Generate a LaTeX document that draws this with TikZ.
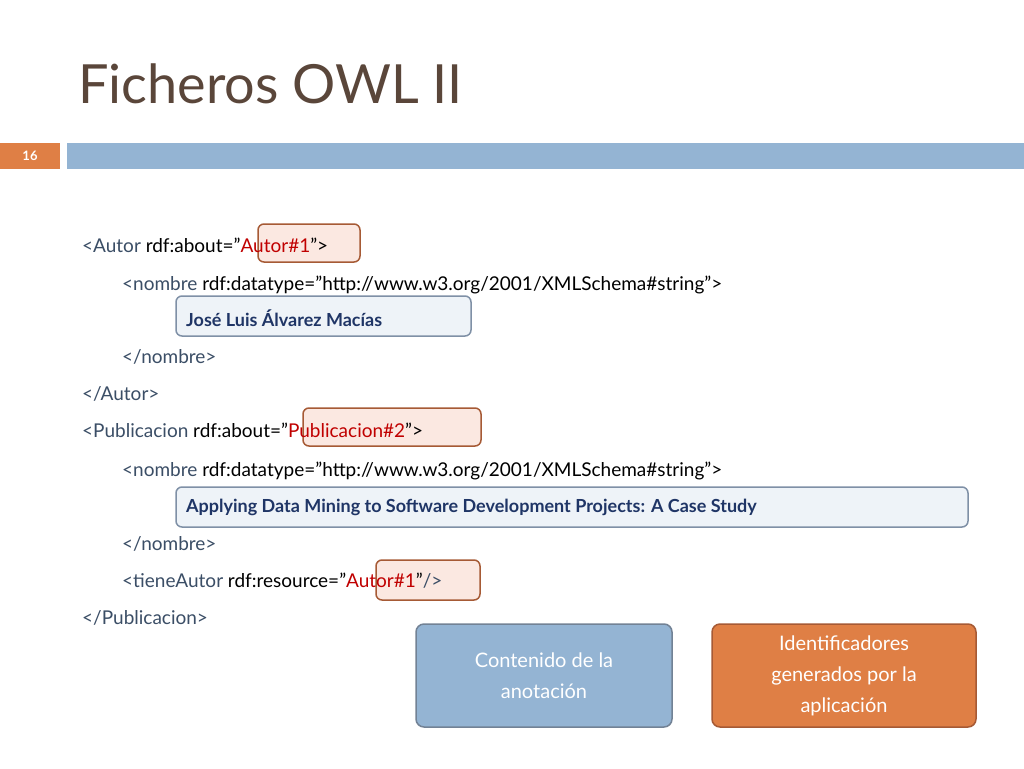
\documentclass[tikz,border=0pt]{standalone}
\usepackage{fontspec}
\setmainfont{Lato}
\definecolor{tag}{HTML}{3B4E66}
\definecolor{red1}{HTML}{C00000}
\definecolor{ttl}{HTML}{5A463A}
\definecolor{bar}{HTML}{94B4D3}
\definecolor{org}{HTML}{DF7F45}
\definecolor{hlf}{HTML}{FBE8E1}
\definecolor{hlb}{HTML}{A65A35}
\definecolor{bxf}{HTML}{EEF3F8}
\definecolor{bxb}{HTML}{7F90A6}
\definecolor{bname}{HTML}{1F3566}
\begin{document}
\begin{tikzpicture}[x=1pt,y=-1pt,
 code/.style={anchor=base west,inner sep=0,font=\fontsize{19}{22}\selectfont},
 hl/.style={draw=hlb,fill=hlf,line width=1.5pt,rounded corners=6pt},
 vb/.style={draw=bxb,fill=bxf,line width=1.5pt,rounded corners=6pt},
 big/.style={draw,line width=1.5pt,rounded corners=8pt,text=white,align=center,font=\fontsize{20}{31}\selectfont,inner sep=0}]
\useasboundingbox[fill=white] (0,0) rectangle (1024,768);
\node[anchor=base west,inner sep=0,text=ttl,font=\fontsize{54}{60}\selectfont] (title) at (78,103) {Ficheros OWL II};
\fill[org] (0,143) rectangle (60,169);
\node[text=white,font=\bfseries\fontsize{13}{15}\selectfont] (num) at (30,156) {16};
\fill[bar] (67,143) rectangle (1024,169);
% highlight boxes
\draw[hl] (258,224) rectangle (360,262);
\draw[hl] (303,408) rectangle (481,446);
\draw[hl] (376,560) rectangle (480,600);
\draw[vb] (176,296) rectangle (471,336);
\draw[vb] (176,487) rectangle (968,527);
\node[code] (l1) at (82,252) {\textcolor{tag}{<Autor} rdf:about="\textcolor{red1}{Autor\#1}">};
\node[code] (l2) at (122,290) {\textcolor{tag}{<nombre} rdf:datatype="http://www.w3.org/2001/XMLSchema\#string”>};
\node[code,text=bname,font=\bfseries\fontsize{18}{22}\selectfont] (l3) at (186,326) {José Luis Álvarez Macías};
\node[code,text=tag] (l4) at (122,363) {</nombre>};
\node[code,text=tag] (l5) at (82,400) {</Autor>};
\node[code] (l6) at (82,437) {\textcolor{tag}{<Publicacion} rdf:about="\textcolor{red1}{Publicacion\#2}">};
\node[code] (l7) at (122,476) {\textcolor{tag}{<nombre} rdf:datatype="http://www.w3.org/2001/XMLSchema\#string”>};
\node[code,text=bname,font=\bfseries\fontsize{18}{22}\selectfont] (l8) at (186,512) {Applying Data Mining to Software Development Projects: A Case Study};
\node[code,text=tag] (l9) at (122,550) {</nombre>};
\node[code] (l10) at (122,587) {\textcolor{tag}{<tieneAutor} rdf:resource="\textcolor{red1}{Autor\#1}"\textcolor{tag}{/>}};
\node[code,text=tag] (l11) at (82,624) {</Publicacion>};
\node[big,draw=bxb!90!black,fill=bar,minimum width=256pt,minimum height=103pt] (c1) at (544,675.5) {Contenido de la\\anotación};
\node[big,draw=hlb,fill=org,minimum width=264pt,minimum height=103pt] (c2) at (844,675.5) {Identificadores\\generados por la\\aplicación};
\end{tikzpicture}
\end{document}
